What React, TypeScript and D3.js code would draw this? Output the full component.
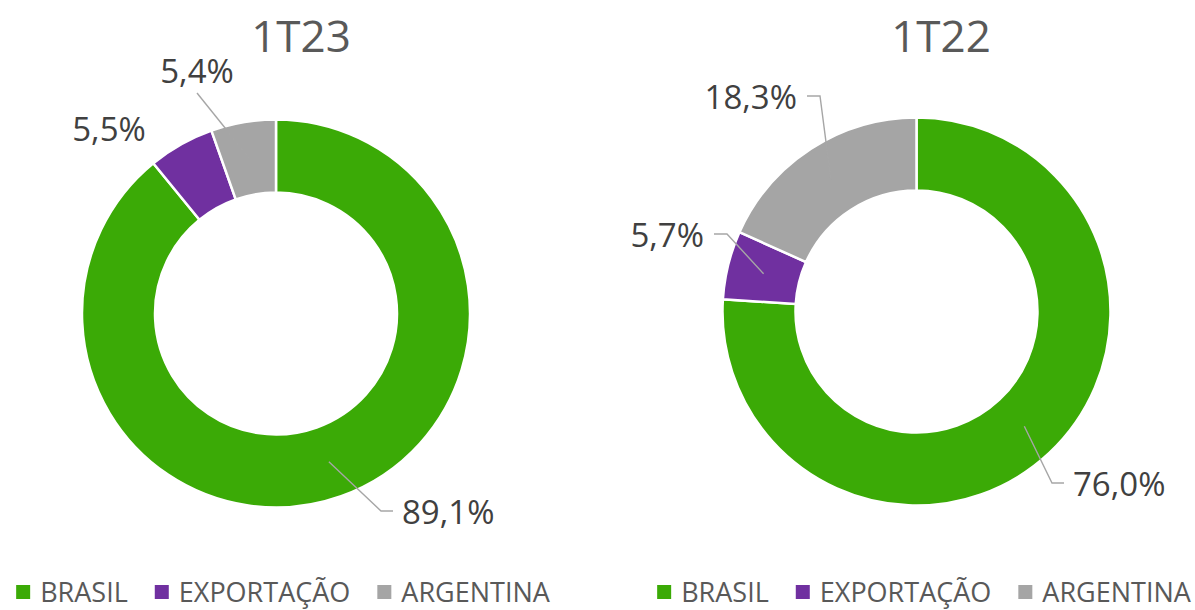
import React, { useEffect, useRef } from "react";
import * as d3 from "d3";

// ---- data ----
const categories = ["BRASIL", "EXPORTAÇÃO", "ARGENTINA"];
const sliceColors = ["#3BAA06", "#7030A0", "#A5A5A5"];
const periods = ["1T23", "1T22"];
const share1T23 = [89.1, 5.5, 5.4];
const share1T22 = [76.0, 5.7, 18.3];
const seriesByPeriod = [share1T23, share1T22];

// ---- layout (positions / styling only) ----
const W = 1195;
const H = 610;
const OUTER_R = 194;
const INNER_R = 121;
const FONT = "'Open Sans', 'Liberation Sans', sans-serif";

type LabelLayout = { mode: "right" | "left" | "above" | "free"; dx: number; dy: number };
const panels: { cx: number; cy: number; titleX: number; legendCX: number; labels: LabelLayout[] }[] = [
  {
    cx: 276,
    cy: 313.5,
    titleX: 301,
    legendCX: 283,
    labels: [
      { mode: "right", dx: 105, dy: 197.5 },
      { mode: "free", dx: -167, dy: -172.5 },
      { mode: "above", dx: -79, dy: -220.5 },
    ],
  },
  {
    cx: 916.5,
    cy: 311.5,
    titleX: 941,
    legendCX: 924,
    labels: [
      { mode: "right", dx: 135.5, dy: 171.5 },
      { mode: "left", dx: -189.5, dy: -77.5 },
      { mode: "left", dx: -96.5, dy: -215.5 },
    ],
  },
];

const fmt = (v: number) => d3.format(".1f")(v).replace(".", ",") + "%";

export default function App() {
  const ref = useRef<SVGSVGElement | null>(null);

  useEffect(() => {
    const svg = d3.select(ref.current);
    svg.selectAll("*").remove();

    const pie = d3
      .pie<number>()
      .sort(null)
      .value((d) => d)
      .startAngle(0)
      .endAngle(2 * Math.PI);
    const arc = d3.arc<d3.PieArcDatum<number>>().innerRadius(INNER_R).outerRadius(OUTER_R);
    const midR = (INNER_R + OUTER_R) / 2;

    periods.forEach((period, pi) => {
      const p = panels[pi];
      const values = seriesByPeriod[pi];
      const arcs = pie(values);

      // title
      svg
        .append("text")
        .attr("x", p.titleX)
        .attr("y", 52)
        .attr("text-anchor", "middle")
        .attr("font-family", FONT)
        .attr("font-size", 44)
        .attr("fill", "#595959")
        .text(period);

      const g = svg.append("g").attr("transform", `translate(${p.cx},${p.cy})`);
      g.selectAll("path.slice")
        .data(arcs)
        .join("path")
        .attr("class", "slice")
        .attr("d", arc as any)
        .attr("fill", (_d, i) => sliceColors[i])
        .attr("stroke", "#ffffff")
        .attr("stroke-width", 2.5)
        .attr("stroke-linejoin", "miter");

      // labels + leader lines
      arcs.forEach((a, i) => {
        const L = p.labels[i];
        const mid = (a.startAngle + a.endAngle) / 2;
        const sx = midR * Math.sin(mid);
        const sy = -midR * Math.cos(mid);
        const lineAttrs = (sel: any) =>
          sel.attr("fill", "none").attr("stroke", "#A6A6A6").attr("stroke-width", 1.4);
        const text = g
          .append("text")
          .attr("font-family", FONT)
          .attr("font-size", 33)
          .attr("fill", "#404040")
          .text(fmt(values[i]));
        if (L.mode === "right") {
          const hx = L.dx + 12;
          g.append("path")
            .attr("d", `M${sx},${sy}L${L.dx},${L.dy}L${hx},${L.dy}`)
            .call(lineAttrs);
          text.attr("x", hx + 9).attr("y", L.dy + 12.5).attr("text-anchor", "start");
        } else if (L.mode === "left") {
          const hx = L.dx - 13;
          g.append("path")
            .attr("d", `M${sx},${sy}L${L.dx},${L.dy}L${hx},${L.dy}`)
            .call(lineAttrs);
          text.attr("x", hx - 10).attr("y", L.dy + 12.5).attr("text-anchor", "end");
        } else if (L.mode === "above") {
          g.append("path").attr("d", `M${sx},${sy}L${L.dx},${L.dy}`).call(lineAttrs);
          text.attr("x", L.dx).attr("y", L.dy - 10).attr("text-anchor", "middle");
        } else {
          text.attr("x", L.dx).attr("y", L.dy).attr("text-anchor", "middle");
        }
      });

      // legend
      const lg = svg.append("g");
      const sq = 14;
      const gapText = 10;
      const gapItem = 27;
      let x = 0;
      categories.forEach((c, i) => {
        lg.append("rect")
          .attr("x", x)
          .attr("y", 585)
          .attr("width", sq)
          .attr("height", sq)
          .attr("fill", sliceColors[i]);
        const t = lg
          .append("text")
          .attr("x", x + sq + gapText)
          .attr("y", 602)
          .attr("font-family", FONT)
          .attr("font-size", 27)
          .attr("fill", "#595959")
          .text(c);
        const w = (t.node() as SVGTextElement).getComputedTextLength();
        x += sq + gapText + w + gapItem;
      });
      const total = x - gapItem;
      lg.attr("transform", `translate(${p.legendCX - total / 2},0)`);
    });
  }, []);

  return (
    <svg
      ref={ref}
      width={W}
      height={H}
      viewBox={`0 0 ${W} ${H}`}
      style={{ position: "absolute", left: 0, top: 0, background: "#ffffff" }}
    />
  );
}
